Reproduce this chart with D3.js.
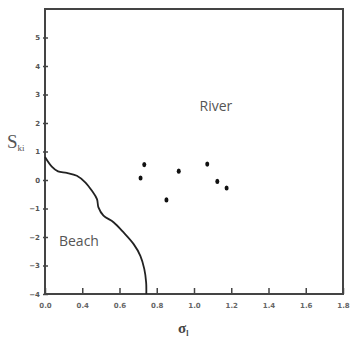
<!DOCTYPE html>
<html>
<head>
<meta charset="utf-8">
<script src="https://cdn.jsdelivr.net/npm/d3@7"></script>
<style>
  body { margin: 0; background: #fff; }
  svg { display: block; }
</style>
</head>
<body>
<div id="chart"></div>
<script>
// DATA
const xTicks = [0.2, 0.4, 0.6, 0.8, 1.0, 1.2, 1.4, 1.6, 1.8];
const xTickLabels = ["0.0", "0.4", "0.6", "0.8", "1.0", "1.2", "1.4", "1.6", "1.8"];
const yTicks = [-4, -3, -2, -1, 0, 1, 2, 3, 4, 5];

const pointX = [0.733, 0.713, 0.918, 0.852, 1.071, 1.125, 1.175];
const pointY = [0.54, 0.07, 0.31, -0.70, 0.56, -0.05, -0.28];

const curveX = [0.2, 0.238, 0.27, 0.317, 0.371, 0.416, 0.452, 0.479, 0.487, 0.514, 0.568, 0.622, 0.676, 0.712, 0.733, 0.743, 0.744];
const curveY = [0.81, 0.46, 0.30, 0.25, 0.15, -0.08, -0.38, -0.67, -0.96, -1.25, -1.48, -1.84, -2.25, -2.66, -3.12, -3.59, -4.0];

const regionLabels = ["River", "Beach"];
const regionX = [1.03, 0.275];
const regionY = [2.56, -2.2];

// LAYOUT
const width = 350;
const height = 340;
const margin = { top: 9, right: 7, bottom: 46, left: 45 };

const svg = d3
  .select("#chart")
  .append("svg")
  .attr("width", width)
  .attr("height", height);

const x = d3
  .scaleLinear()
  .domain([0.2, 1.8])
  .range([margin.left, width - margin.right]);

const y = d3
  .scaleLinear()
  .domain([-4, 6])
  .range([height - margin.bottom, margin.top]);

const axisColor = "#444";
const tickFont = "DejaVu Sans, sans-serif";

// FRAME
svg
  .append("rect")
  .attr("x", x(0.2))
  .attr("y", y(6))
  .attr("width", x(1.8) - x(0.2))
  .attr("height", y(-4) - y(6))
  .attr("fill", "none")
  .attr("stroke", axisColor)
  .attr("stroke-width", 2);

// X AXIS
const xAxis = svg
  .append("g")
  .attr("transform", `translate(0,${y(-4)})`)
  .call(
    d3
      .axisBottom(x)
      .tickValues(xTicks)
      .tickSize(-6)
      .tickPadding(9)
      .tickFormat((d, i) => xTickLabels[i])
  );

xAxis.select(".domain").remove();
xAxis.selectAll(".tick line").attr("stroke", axisColor).attr("stroke-width", 1.5);
xAxis
  .selectAll(".tick text")
  .attr("fill", "#666")
  .style("font-family", tickFont)
  .style("font-size", "7px")
  .style("font-weight", "bold");

// Y AXIS
const yAxis = svg
  .append("g")
  .attr("transform", `translate(${x(0.2)},0)`)
  .call(d3.axisLeft(y).tickValues(yTicks).tickSize(3).tickPadding(2));

yAxis.select(".domain").remove();
yAxis
  .selectAll(".tick line")
  .attr("x1", -2)
  .attr("x2", 3)
  .attr("stroke", axisColor)
  .attr("stroke-width", 1.5);
yAxis
  .selectAll(".tick text")
  .attr("fill", "#555")
  .style("font-family", tickFont)
  .style("font-size", "7px")
  .style("font-weight", "bold");

// BOUNDARY CURVE
const curveData = curveX.map((d, i) => [d, curveY[i]]);

svg
  .append("path")
  .datum(curveData)
  .attr("fill", "none")
  .attr("stroke", "#222")
  .attr("stroke-width", 1.8)
  .attr(
    "d",
    d3
      .line()
      .x((d) => x(d[0]))
      .y((d) => y(d[1]))
      .curve(d3.curveCatmullRom)
  );

// POINTS
svg
  .selectAll("ellipse.pt")
  .data(pointX.map((d, i) => [d, pointY[i]]))
  .enter()
  .append("ellipse")
  .attr("class", "pt")
  .attr("cx", (d) => x(d[0]))
  .attr("cy", (d) => y(d[1]))
  .attr("rx", 2)
  .attr("ry", 2.6)
  .attr("fill", "#111");

// REGION LABELS
svg
  .selectAll("text.region")
  .data(regionLabels)
  .enter()
  .append("text")
  .attr("class", "region")
  .attr("x", (d, i) => x(regionX[i]))
  .attr("y", (d, i) => y(regionY[i]))
  .attr("dominant-baseline", "middle")
  .style("font-family", "Open Sans, sans-serif")
  .style("font-size", "14px")
  .style("fill", "#555")
  .text((d) => d);

// AXIS TITLES
const yTitle = svg
  .append("text")
  .attr("x", 7)
  .attr("y", 148)
  .style("font-family", "Liberation Serif, serif")
  .style("font-size", "19px")
  .style("fill", "#555");
yTitle.append("tspan").text("S");
yTitle
  .append("tspan")
  .attr("dy", 3)
  .style("font-size", "9px")
  .text("ki");

const xTitle = svg
  .append("text")
  .attr("x", 178)
  .attr("y", 333)
  .style("font-family", "Liberation Serif, serif")
  .style("font-size", "15px")
  .style("font-weight", "bold")
  .style("fill", "#444");
xTitle.append("tspan").text("σ");
xTitle
  .append("tspan")
  .attr("dy", 3)
  .style("font-size", "8px")
  .text("l");
</script>
</body>
</html>
